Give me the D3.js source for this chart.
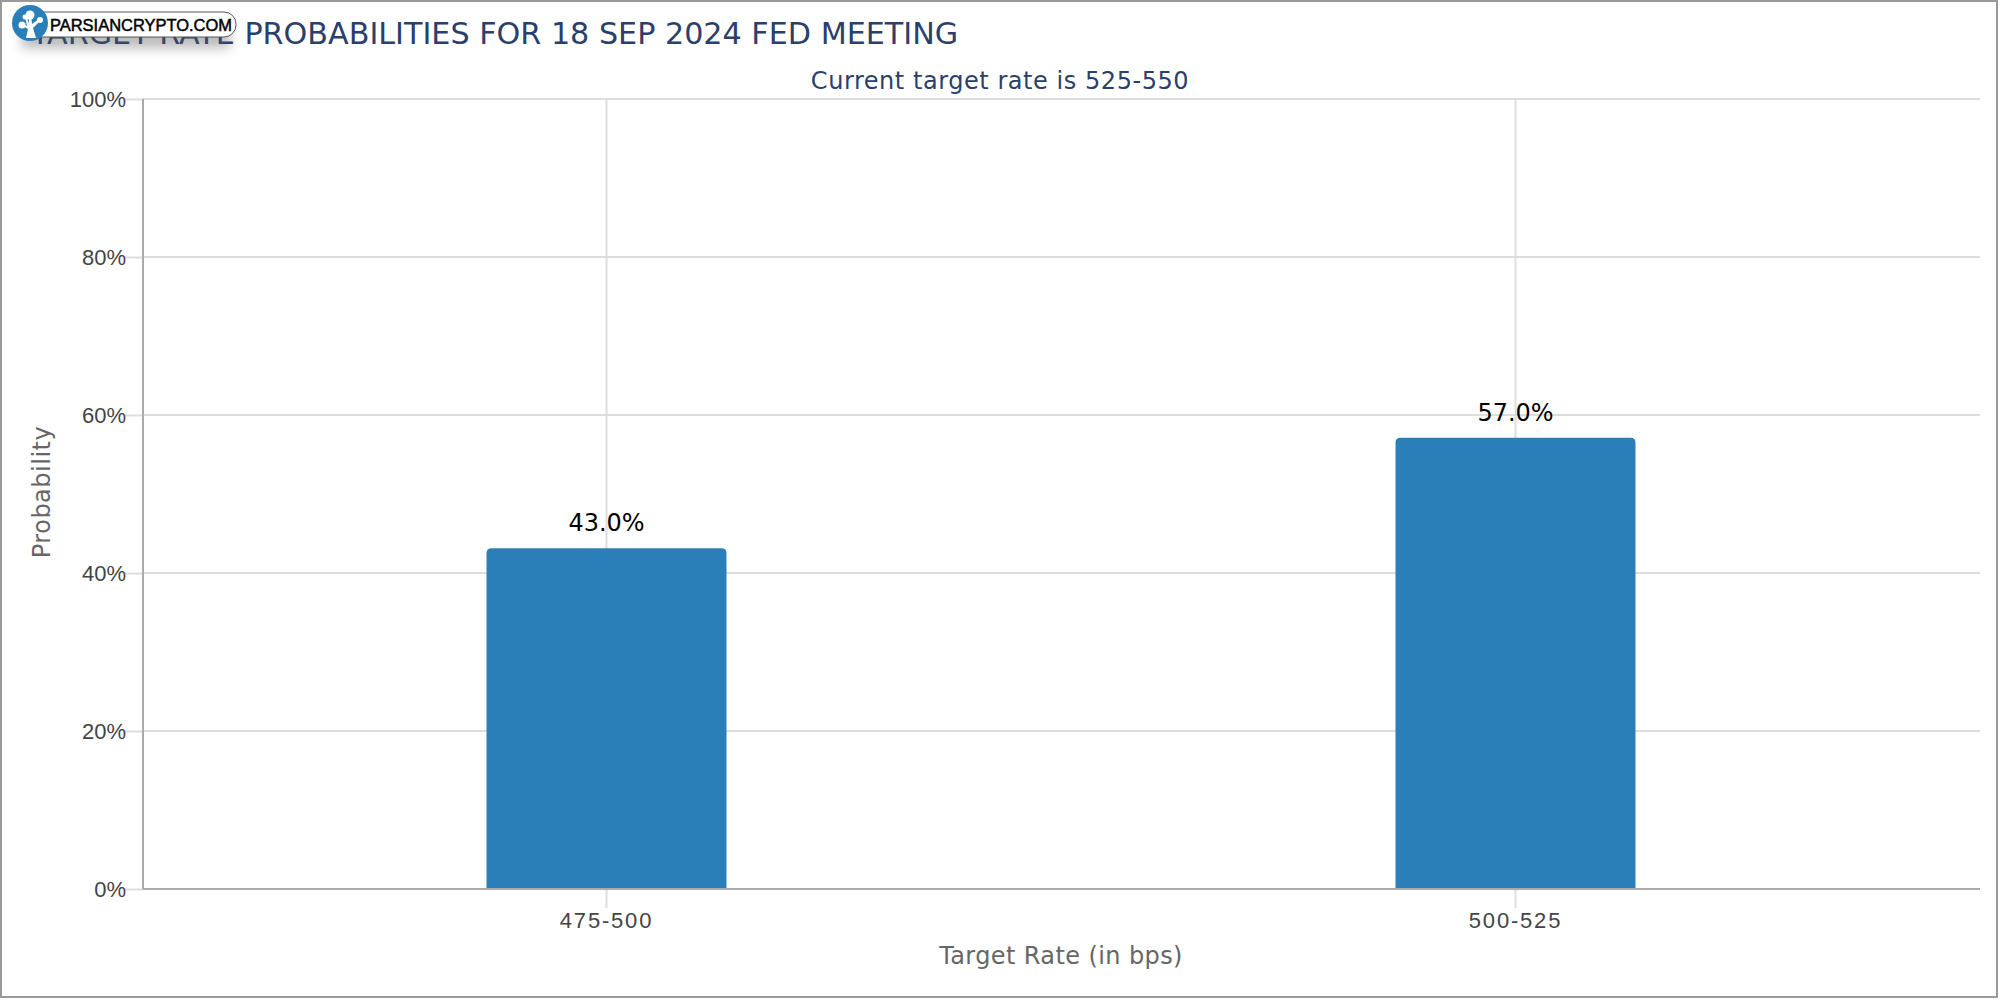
<!DOCTYPE html>
<html>
<head>
<meta charset="utf-8">
<title>Target rate probabilities</title>
<script src="https://cdn.jsdelivr.net/npm/d3@7"></script>
<style>
    html, body { margin: 0; padding: 0; background: #fff; }
    svg { display: block; font-family: "DejaVu Sans", sans-serif; }
    .tick text { fill: #444; font-size: 22px; }
    .x-axis .tick text { letter-spacing: 1.8px; }
</style>
</head>
<body>
<svg id="chart" width="2000" height="1000"></svg>
<script>
const rates = ['475-500', '500-525'];
const probabilities = [43.0, 57.0];
const yTicks = [0, 20, 40, 60, 80, 100];
const titleText = 'TARGET RATE PROBABILITIES FOR 18 SEP 2024 FED MEETING';
const subtitleText = 'Current target rate is 525-550';

const svg = d3.select('#chart');
const margin = {top: 99, right: 20, bottom: 111, left: 143};
const width = 2000, height = 1000;

// frame around the whole picture
svg.append('rect')
    .attr('x', 1).attr('y', 1)
    .attr('width', 1996).attr('height', 996)
    .attr('fill', '#fff').attr('stroke', '#999').attr('stroke-width', 2);

const x = d3.scaleBand()
    .domain(rates)
    .range([152, 1970])
    .paddingInner(0.736)
    .paddingOuter(0.368);

const y = d3.scaleLinear()
    .domain([0, 100])
    .range([height - margin.bottom, margin.top]);

const barCenter = r => x(r) + x.bandwidth() / 2;

// y axis, ticks double as grid lines
const yAxis = svg.append('g')
    .attr('transform', `translate(${margin.left},0)`)
    .call(d3.axisLeft(y)
        .tickValues(yTicks)
        .tickFormat(d => d + '%')
        .tickSize(18)
        .tickPadding(0));
yAxis.selectAll('.tick line').attr('stroke', '#ddd').attr('stroke-width', 2);
yAxis.selectAll('.tick text').attr('x', -17).attr('dy', '0.36em');
yAxis.select('.domain').remove();

svg.append('g').selectAll('line')
    .data(yTicks)
    .join('line')
    .attr('x1', margin.left).attr('x2', width - margin.right)
    .attr('y1', d => y(d)).attr('y2', d => y(d))
    .attr('stroke', '#ddd').attr('stroke-width', 2);

svg.append('g').selectAll('line')
    .data(rates)
    .join('line')
    .attr('x1', barCenter).attr('x2', barCenter)
    .attr('y1', margin.top).attr('y2', height - margin.bottom)
    .attr('stroke', '#ddd').attr('stroke-width', 2);

// bars with rounded top corners
const r = 5;
function barPath(d, i) {
    const l = x(d), w = x.bandwidth(), t = y(probabilities[i]) - 1, b = y(0);
    const p = d3.path();
    p.moveTo(l, b);
    p.lineTo(l, t + r);
    p.quadraticCurveTo(l, t, l + r, t);
    p.lineTo(l + w - r, t);
    p.quadraticCurveTo(l + w, t, l + w, t + r);
    p.lineTo(l + w, b);
    p.closePath();
    return p.toString();
}

svg.append('g').selectAll('path')
    .data(rates)
    .join('path')
    .attr('d', barPath)
    .attr('fill', '#2a7fb8');

svg.append('g').selectAll('text')
    .data(rates)
    .join('text')
    .attr('x', barCenter)
    .attr('y', (d, i) => y(probabilities[i]) - 18)
    .attr('text-anchor', 'middle')
    .attr('font-size', 24)
    .attr('fill', '#000')
    .text((d, i) => probabilities[i].toFixed(1) + '%');

// x axis
const xAxis = svg.append('g')
    .attr('class', 'x-axis')
    .attr('transform', `translate(0,${height - margin.bottom})`)
    .call(d3.axisBottom(x).tickSize(19).tickPadding(4));
xAxis.selectAll('.tick line').attr('stroke', '#ddd').attr('stroke-width', 2);
xAxis.select('.domain').remove();

svg.append('line')
    .attr('x1', margin.left).attr('x2', width - margin.right)
    .attr('y1', y(0)).attr('y2', y(0))
    .attr('stroke', '#aaa').attr('stroke-width', 2);
svg.append('line')
    .attr('x1', margin.left).attr('x2', margin.left)
    .attr('y1', margin.top).attr('y2', y(0))
    .attr('stroke', '#aaa').attr('stroke-width', 2);

// titles
svg.append('text')
    .attr('x', 31).attr('y', 44)
    .attr('font-size', 30.2)
    .attr('fill', '#2b3f6b')
    .text(titleText);

svg.append('text')
    .attr('x', 1000).attr('y', 89)
    .attr('text-anchor', 'middle')
    .attr('font-size', 24)
    .attr('letter-spacing', 0.55)
    .attr('fill', '#2b3f6b')
    .text(subtitleText);

svg.append('text')
    .attr('x', 1061).attr('y', 964)
    .attr('text-anchor', 'middle')
    .attr('font-size', 24)
    .attr('letter-spacing', 0.4)
    .attr('fill', '#666')
    .text('Target Rate (in bps)');

svg.append('text')
    .attr('transform', 'translate(50,492) rotate(-90)')
    .attr('text-anchor', 'middle')
    .attr('font-size', 24)
    .attr('letter-spacing', 0.5)
    .attr('fill', '#666')
    .text('Probability');

// watermark badge over the start of the title
const defs = svg.append('defs');
const blur = defs.append('filter').attr('id', 'badgeShadow')
    .attr('x', '-20%').attr('y', '-60%').attr('width', '140%').attr('height', '240%');
blur.append('feGaussianBlur').attr('stdDeviation', 6);

const badge = svg.append('g');
badge.append('rect')
    .attr('x', 22).attr('y', 28).attr('width', 208).attr('height', 20)
    .attr('fill', '#555').attr('opacity', 0.4)
    .attr('filter', 'url(#badgeShadow)');
badge.append('rect')
    .attr('x', 30).attr('y', 12).attr('width', 206).attr('height', 25).attr('rx', 12)
    .attr('fill', '#fff').attr('stroke', '#555').attr('stroke-width', 1);
badge.append('text')
    .attr('x', 50).attr('y', 31)
    .attr('font-family', '"Liberation Sans", sans-serif')
    .attr('font-size', 17)
    .attr('textLength', 182)
    .attr('lengthAdjust', 'spacingAndGlyphs')
    .attr('stroke', '#000').attr('stroke-width', 0.5)
    .attr('fill', '#000')
    .text('PARSIANCRYPTO.COM');
badge.append('circle')
    .attr('cx', 30).attr('cy', 23).attr('r', 18)
    .attr('fill', '#2a7fb8');
badge.append('path')
    .attr('d', 'M26 38 L28 29 L21 25 L22 24 L27 26 L25 17 L27 17 L29 24 L29 15 L31 15 L32 24 L39 19 L40 21 L33 28 L36 38 Z')
    .attr('fill', '#fff');
[[30, 15, 4.5], [22, 25, 3.5], [25, 17, 2.5], [40, 20, 3]].forEach(c => {
    badge.append('circle').attr('cx', c[0]).attr('cy', c[1]).attr('r', c[2]).attr('fill', '#fff');
});
</script>
</body>
</html>
